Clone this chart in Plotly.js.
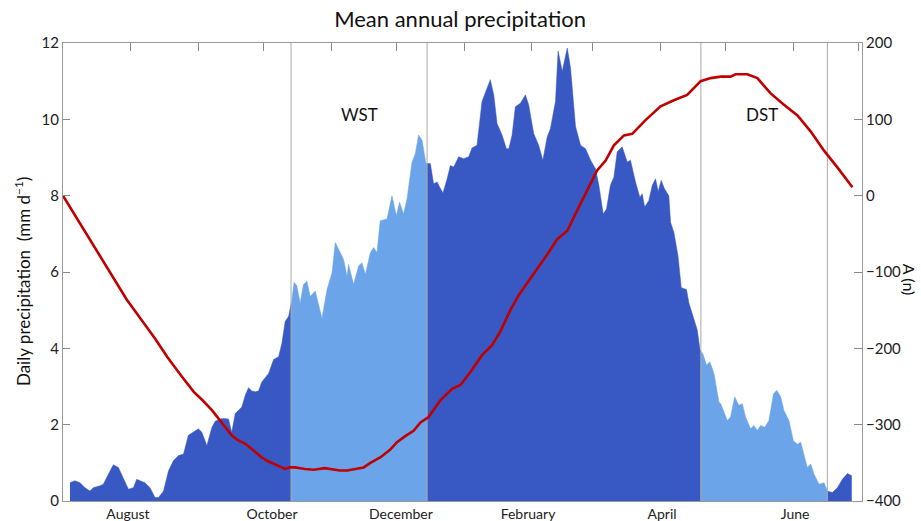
<!DOCTYPE html>
<html>
<head>
<meta charset="utf-8">
<script src="https://cdn.plot.ly/plotly-3.0.1.min.js"></script>
<style>html,body{margin:0;padding:0;background:#fff;}#chart{width:921px;height:521px;}</style>
</head>
<body>
<div id="chart"></div>
<script>
// Day of the hydrological year (0 = 1 July)
var precipDay = [3.2,5.5,7.8,10.1,12.4,13.9,17.0,18.5,20.8,23.1,25.4,27.7,30.0,32.3,33.8,35.4,37.6,39.9,42.2,43.8,46.1,48.4,50.7,53.0,55.3,57.5,59.8,62.1,63.7,66.0,68.3,69.8,72.1,73.6,75.9,77.4,79.0,80.5,82.0,83.6,85.1,86.6,88.2,89.7,91.2,94.3,96.6,98.9,100.4,101.9,103.5,105.0,106.0,107.3,108.8,110.3,111.9,113.4,115.7,118.8,121.1,123.4,124.9,127.2,128.7,130.3,131.0,133.3,135.6,137.1,138.7,141.0,142.5,144.0,145.5,148.6,150.9,152.9,154.4,156.2,157.8,160.1,161.6,163.1,164.7,166.5,168.5,170.0,171.6,172.8,174.3,176.2,177.7,179.2,181.5,183.8,186.1,187.6,189.9,192.2,194.5,196.0,197.6,199.1,201.4,203.4,204.5,206.0,207.5,209.8,212.1,213.6,215.9,218.2,220.1,222.1,223.6,225.9,227.1,229.0,231.3,232.8,235.1,237.4,239.7,242.0,244.3,245.8,247.8,249.3,251.1,252.7,254.2,256.5,258.8,260.3,262.6,264.6,265.7,266.8,268.7,270.3,271.8,273.0,274.4,275.9,277.9,278.7,280.2,282.1,283.6,286.0,287.1,289.4,290.9,292.2,293.7,295.2,296.7,298.6,300.9,301.7,304.7,306.2,308.1,310.0,311.6,313.1,315.4,316.9,318.5,320.0,321.9,323.8,325.9,327.4,329.2,330.7,333.0,335.0,336.8,338.4,339.9,341.4,343.0,344.5,346.8,349.1,350.6,352.9,355.2,357.5,359.8,361.8];
var precipVal = [0.48,0.53,0.48,0.35,0.26,0.35,0.40,0.44,0.70,0.95,0.88,0.57,0.31,0.35,0.57,0.53,0.48,0.35,0.09,0.09,0.26,0.79,1.06,1.19,1.23,1.72,1.80,1.89,1.80,1.45,1.93,2.09,2.15,2.16,2.15,1.80,2.29,2.37,2.46,2.77,2.97,2.88,2.86,2.88,3.12,3.34,3.71,3.78,4.13,4.70,4.84,5.28,5.73,5.63,5.19,5.67,5.76,5.36,5.50,4.79,5.54,5.98,6.77,6.51,6.33,5.89,6.20,5.67,6.16,6.24,5.94,6.51,6.64,6.51,7.34,7.39,8.00,7.48,7.83,7.52,7.92,8.88,9.10,9.59,9.45,8.84,8.84,8.31,8.36,8.22,8.07,8.44,8.79,8.75,9.02,8.97,9.02,9.25,9.32,10.47,10.82,11.04,10.64,9.89,9.59,9.23,9.23,9.59,10.33,10.42,10.64,10.38,9.63,9.32,8.93,9.54,9.76,10.47,11.79,11.26,11.87,11.35,9.81,9.32,9.23,8.93,8.70,8.27,7.52,7.65,8.27,8.49,9.15,9.28,8.88,8.93,8.36,7.96,8.05,7.70,7.87,8.27,8.44,8.11,8.40,8.18,8.00,7.30,7.04,6.42,5.59,5.54,5.19,4.75,4.49,3.96,3.83,3.56,3.65,3.34,2.59,2.55,2.11,2.20,2.73,2.51,2.55,2.20,1.89,1.98,1.85,1.98,1.93,2.11,2.81,2.90,2.73,2.37,2.11,1.58,1.49,1.54,1.23,0.88,0.97,0.70,0.44,0.48,0.26,0.22,0.35,0.57,0.72,0.66];

var aDay = [0,29.2,42.2,48,54.5,60,64,68.3,73,77.4,80,83.6,87,91.2,94,97.3,101.9,104,106.5,111,115,120,122.6,127,130.3,134,137.9,141,145.5,150,153.2,157,160.8,164,167.7,173.1,178.5,182.3,186.9,192.2,196.8,200.6,205.2,209.1,215.9,222.1,226.7,231.3,236.6,240.5,245,248.9,252.7,257.3,261.1,267.2,274.1,280.2,286.3,292.5,297.1,301.7,306.2,308.5,313.9,318.5,324.6,330.7,336.9,343,349.1,355.2,362.1];
var aVal = [0,-136,-187,-212,-237,-257,-268,-281,-298,-314,-320,-325,-333,-343,-348,-352,-358,-356,-356,-358,-359,-357,-358,-360,-360,-358,-356,-350,-343,-333,-323,-315,-308,-297,-290,-268,-253,-248,-231,-209,-196,-178,-150,-130,-103,-77,-57,-46,-15,7,33,46,66,79,81,99,117,125,132,150,154,156,156,159,159,154,134,119,105,84,59,37,11];

// season boundaries (day) : WST = Oct..Dec, DST = Apr..Jun
var seasonBounds = [104.6, 167.0, 292.6, 350.6];
var seasonLabels = ['WST', 'DST'];

var monthTickDays = [31,62,92,123,153,184,215,243,274,304,335,365];
var monthLabels = ['August','October','December','February','April','June'];
var monthLabelDays = [29.8,95.9,155,213.3,274.8,335.8];

var DARK = '#3858C4', LIGHT = '#6CA4EA', RED = '#C00000';

function valAt(d){
  for (var i=0;i<precipDay.length-1;i++){
    if (d>=precipDay[i] && d<=precipDay[i+1]){
      var t=(d-precipDay[i])/(precipDay[i+1]-precipDay[i]);
      return precipVal[i]+t*(precipVal[i+1]-precipVal[i]);
    }
  }
  return null;
}
var edges = [precipDay[0]].concat(seasonBounds).concat([precipDay[precipDay.length-1]]);
var traces = [];
for (var s=0;s<edges.length-1;s++){
  var a=edges[s], b=edges[s+1], xs=[], ys=[];
  xs.push(a); ys.push(valAt(a));
  for (var i=0;i<precipDay.length;i++){ if (precipDay[i]>a && precipDay[i]<b){ xs.push(precipDay[i]); ys.push(precipVal[i]); } }
  xs.push(b); ys.push(valAt(b));
  traces.push({x:xs,y:ys,type:'scatter',mode:'lines',fill:'tozeroy',
    fillcolor:(s%2===0)?DARK:LIGHT,line:{width:0.5,color:(s%2===0)?DARK:LIGHT},hoverinfo:'skip',showlegend:false,xaxis:'x',yaxis:'y'});
}
seasonBounds.forEach(function(d){
  traces.push({x:[d,d],y:[0,12],type:'scatter',mode:'lines',line:{color:'#a8a8a8',width:1},hoverinfo:'skip',showlegend:false});
});
traces.push({x:aDay,y:aVal,type:'scatter',mode:'lines',line:{color:RED,width:2.6},yaxis:'y2',showlegend:false});
// dummy for top tick axis
traces.push({x:[0],y:[0],xaxis:'x2',yaxis:'y',mode:'markers',marker:{opacity:0},hoverinfo:'skip',showlegend:false});

var F = 'Lato, "Open Sans", sans-serif';
var layout = {
  width:921, height:521,
  margin:{l:63,r:59,t:43,b:20},
  paper_bgcolor:'#fff', plot_bgcolor:'#fff',
  font:{family:F,color:'#222',size:14},
  title:{text:'Mean annual precipitation',font:{family:F,size:22,color:'#111'},x:0.497,xref:'paper',y:0.962,yref:'container',yanchor:'middle'},
  xaxis:{range:[0,366.5],showgrid:false,zeroline:false,showline:true,linecolor:'#999',linewidth:1,mirror:true,
    ticks:'',tickmode:'array',tickvals:monthLabelDays,ticktext:monthLabels,tickfont:{size:14,color:'#222'},ticklabelstandoff:0},
  xaxis2:{overlaying:'x',side:'top',range:[0,366.5],showgrid:false,zeroline:false,showline:false,
    ticks:'inside',ticklen:8,tickcolor:'#888',tickmode:'array',tickvals:monthTickDays,showticklabels:false},
  yaxis:{range:[0,12],showgrid:false,zeroline:false,showline:true,linecolor:'#999',ticks:'inside',ticklen:7,tickcolor:'#888',
    tickvals:[0,2,4,6,8,10,12],tickfont:{size:15,color:'#222'}},
  yaxis2:{overlaying:'y',side:'right',range:[-400,200],showgrid:false,zeroline:false,showline:true,linecolor:'#999',
    ticks:'inside',ticklen:8,tickcolor:'#888',tickvals:[-400,-300,-200,-100,0,100,200],tickfont:{size:15,color:'#222'}},
  annotations:[
    {x:136,y:10.13,xref:'x',yref:'y',text:seasonLabels[0],showarrow:false,font:{size:17,color:'#111'}},
    {x:320.7,y:10.13,xref:'x',yref:'y',text:seasonLabels[1],showarrow:false,font:{size:17,color:'#111'}},
    {x:1.0,xref:'paper',xanchor:'center',xshift:47,y:0.485,yref:'paper',yanchor:'middle',text:'A (n)',textangle:90,showarrow:false,font:{size:16,color:'#111'}},
    {x:0,xref:'paper',xanchor:'center',xshift:-41,y:0.478,yref:'paper',yanchor:'middle',text:'Daily precipitation  (mm d<sup>\u22121</sup>)',textangle:-90,showarrow:false,font:{size:17,color:'#111'}}
  ]
};
Plotly.newPlot('chart',traces,layout,{displayModeBar:false,staticPlot:true});
</script>
</body>
</html>
